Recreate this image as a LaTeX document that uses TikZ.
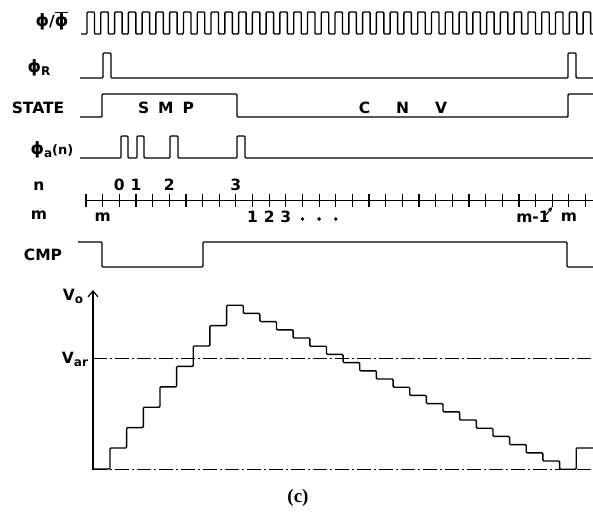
\documentclass[tikz,border=0pt]{standalone}
\usepackage{fontspec}
\setmainfont{DejaVu Sans}
\newfontfamily\legende{Liberation Serif}
\usetikzlibrary{arrows.meta}
% indice abaisse, pas trop petit
\newcommand{\Ind}[1]{\raisebox{-0.35ex}{\fontsize{12}{12}\selectfont #1}}
\newcommand{\Fi}{{\fontsize{17}{17}\selectfont ϕ}}

\begin{document}
\begin{tikzpicture}[x=1pt,y=-1pt,
  every node/.style={font=\fontsize{15.5}{17}\selectfont\bfseries},
  signal/.style={line width=1.4pt,line join=round,rounded corners=1pt},
  axe/.style={line width=1.2pt},
  tiretpoint/.style={line width=0.9pt,dash pattern=on 14pt off 3pt on 2pt off 3pt}]

\useasboundingbox (0,0) rectangle (593,513);

%%%%%%%%%%%%%%%%%%%%%%%%
%Chronogrammes
%%%%%%%%%%%%%%%%%%%%%%%%

    %Période de l'horloge
    \def \Periode {13.78}
    %Pas de la graduation
    \def \Pas {16.65}

    % noms des signaux
    \node (lphi) at (52,21) {\Fi/$\overline{\mbox{\Fi}}$};
    \node (lphir) at (39,68) {\Fi\Ind{R}};
    \node (lstate) at (38,108) {STATE};
    \node (lphia) at (52,150) {\Fi\Ind{a}{\fontsize{13}{14}\selectfont(n)}};
    \node (ln) at (39,186) {n};
    \node (lm) at (39,215) {m};
    \node (lcmp) at (43,255) {CMP};

    % horloge
    \draw[signal] (81,34) foreach \k in {0,...,36}{ -- ({87+\k*\Periode},34) -- ({87+\k*\Periode},12) -- ({94.5+\k*\Periode},12) -- ({94.5+\k*\Periode},34)} -- (593,34);

    % remise a zero
    \draw[signal] (80,78) -- (103,78) -- (103,53) -- (111,53) -- (111,78) -- (568,78) -- (568,53) -- (576,53) -- (576,78) -- (593,78);

    % etat
    \draw[signal] (80,117) -- (102,117) -- (102,94) -- (237,94) -- (237,117) -- (568,117) -- (568,94) -- (593,94);
    \node (smp) at (166,108) {S\hspace{9pt}M\hspace{9pt}P};
    \node (cnv) at (403,108) {C\hspace{26pt}N\hspace{26pt}V};

    % echantillonnage
    \draw[signal] (80,158) foreach \a/\b in {121/128,137/144,170/178,237/245}{ -- (\a,158) -- (\a,136) -- (\b,136) -- (\b,158)} -- (593,158);

    % graduation n et m
    \draw[axe] (86,200.7) -- (593,200.7);
    \foreach \k in {0,...,30}{\draw[axe] ({86+\k*\Pas},194) -- ({86+\k*\Pas},207);}
    \foreach \k/\t in {2/0,3/1,5/2,9/3}{\node (n\t) at ({86+\k*\Pas},185) {\t};}
    \node (m0) at ({86+\Pas},217) {m};
    \foreach \k/\t in {10/1,11/2,12/3}{\node (m\t) at ({86+\k*\Pas},217) {\t};}
    \foreach \k in {13,14,15}{\fill ({86+\k*\Pas},219) circle (1.9pt);}
    \node (mmoins) at (533,217) {m-1};
    \node (mfin) at ({86+29*\Pas},217) {m};
    \coordinate (tmoins) at ({86+28*\Pas},207);
    \draw[line width=1.1pt,-{Stealth[length=5pt,width=4.5pt]}] ([xshift=-7pt,yshift=-7pt]mmoins.north east) -- (tmoins);

    % comparateur
    \draw[signal] (78,242) -- (102,242) -- (102,267) -- (203,267) -- (203,242) -- (567,242) -- (567,267) -- (593,267);

%%%%%%%%%%%%%%%%%%%%%%%%
%Tension de sortie
%%%%%%%%%%%%%%%%%%%%%%%%

    \draw[axe,-{Straight Barb[length=6pt,width=10pt]}] (93,470) -- (93,290);
    \node (vo) at (73,296) {V\Ind{o}};
    \node (var) at (75,359) {V\Ind{ar}};
    \draw[tiretpoint] (93,358) -- (593,358);
    \draw[tiretpoint] (93,469) -- (593,469);

    % escalier
    \draw[signal] (93,469) -- (110,469) foreach \k in {0,...,7}{ -- ({110+\k*\Pas},{448-\k*20.4}) -- ({110+(\k+1)*\Pas},{448-\k*20.4})} foreach \j in {1,...,20}{ -- ({110+(7+\j)*\Pas},{305.2+\j*8.2}) -- ({110+(8+\j)*\Pas},{305.2+\j*8.2})} -- ({110+28*\Pas},448) -- (593,448);

    \node (leg) at (298,498) {\legende\fontsize{19}{20}\selectfont\bfseries (c)};

\end{tikzpicture}
\end{document}
